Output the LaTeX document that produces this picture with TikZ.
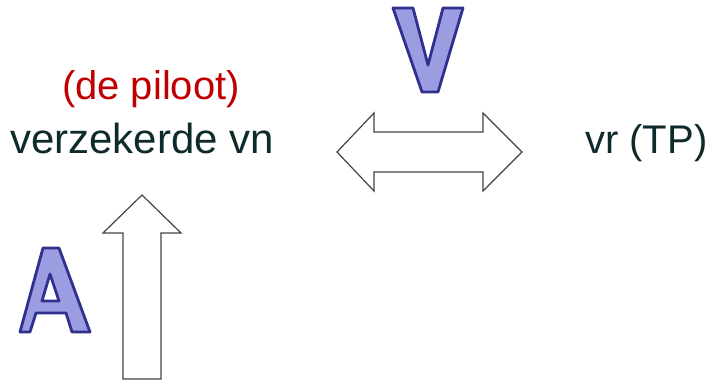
\documentclass[tikz,border=0pt]{standalone}
\usepackage{fontspec}
\setmainfont{Liberation Sans}
\definecolor{txtdark}{HTML}{0F2A2A}
\definecolor{txtred}{HTML}{C00000}
\definecolor{letfill}{HTML}{9C9CE0}
\definecolor{letline}{HTML}{30308F}
\definecolor{arrline}{HTML}{444444}
\tikzset{
  lbl/.style={inner sep=0pt, font=\fontsize{40}{48}\selectfont},
  bigletter/.style={fill=letfill, draw=letline, line width=2.8pt, line join=round, even odd rule},
  hollowarrow/.style={fill=white, draw=arrline, line width=1.2pt, line join=miter}
}
\begin{document}
\begin{tikzpicture}[x=1pt,y=-1pt]
\useasboundingbox (0,0) rectangle (710,383);
% texts
\node[lbl, text=txtred, anchor=base] (pilot) at (151,99) {(de piloot)};
\node[lbl, text=txtdark, anchor=base west, font=\fontsize{42}{50}\selectfont] (vn) at (10,153) {verzekerde vn};
\node[lbl, text=txtdark, anchor=base west] (vr) at (585,153) {vr (TP)};
% double arrow
\draw[hollowarrow] (337,152) -- (374,113) -- (374,132) -- (483,132) -- (483,113) -- (522,152)
  -- (483,191) -- (483,172) -- (374,172) -- (374,191) -- cycle;
% up arrow
\draw[hollowarrow] (142,195) -- (181,233) -- (161,233) -- (161,379) -- (123,379) -- (123,233) -- (103,233) -- cycle;
% letter V
\draw[bigletter] (393,8) -- (413,8) -- (428,65) -- (443,8) -- (463,8) -- (438,92) -- (422,92) -- cycle;
% letter A
\draw[bigletter] (20,332) -- (43,248) -- (59,248) -- (90,332) -- (72,332) -- (66,313) -- (36,313) -- (30,332) -- cycle
  (42,301) -- (50,274) -- (59,301) -- cycle;
\end{tikzpicture}
\end{document}
